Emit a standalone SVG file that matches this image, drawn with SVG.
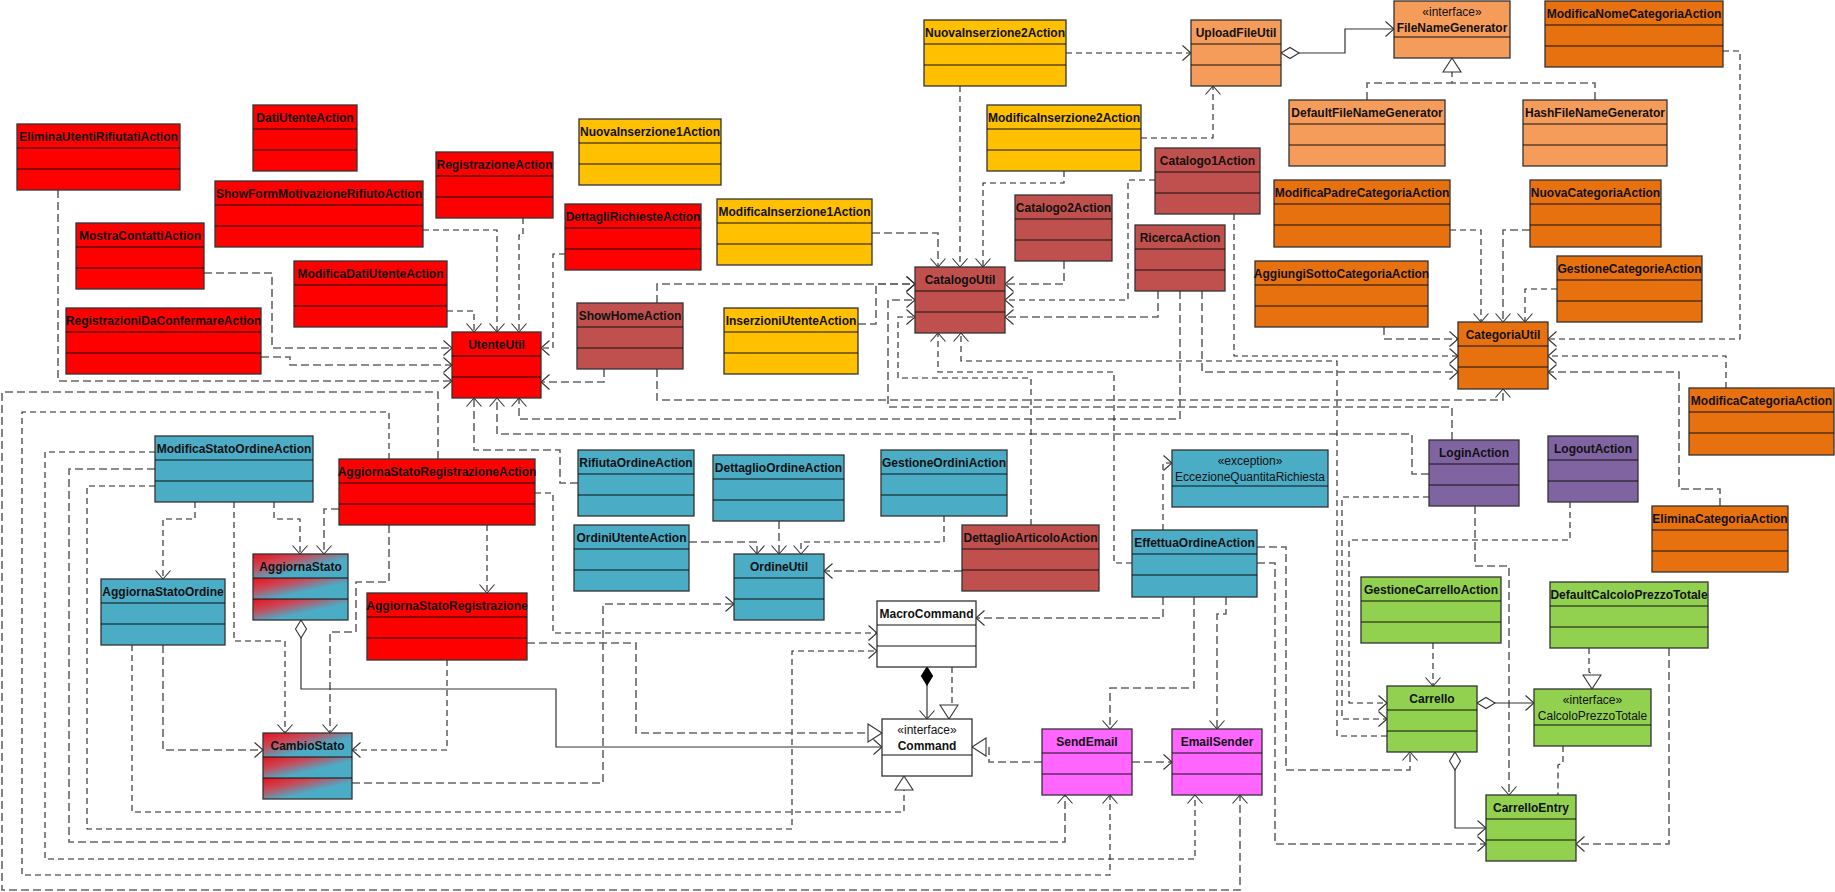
<svg xmlns="http://www.w3.org/2000/svg" width="1835" height="892" viewBox="0 0 1835 892">
<style>
.b{stroke:#333;stroke-width:1.3}
.sep{stroke:#111;stroke-width:1;fill:none}
.t{font-family:"Liberation Sans",Arial,sans-serif;font-size:12px;font-weight:bold;fill:#111;text-anchor:middle}
.st{font-weight:normal}
.red{fill:#FF0000}.yel{fill:#FFC000}.lor{fill:#F69C5A}.dor{fill:#E8710F}.brn{fill:#C0504D}.blu{fill:#4BACC6}.pur{fill:#8064A2}.grn{fill:#92D050}.pnk{fill:#FF66FF}.wht{fill:#FFFFFF}.grd{fill:url(#rb)}
.d{fill:none;stroke:#666;stroke-width:1.6;stroke-dasharray:8,4}
.k{fill:none;stroke:#222;stroke-width:1.1;stroke-dasharray:6,4}
.s{fill:none;stroke:#333;stroke-width:1.2}
.ar{marker-end:url(#ar)}.tr{marker-end:url(#tri)}
</style>
<defs>
<linearGradient id="rb" x1="0" y1="0" x2="1" y2="1"><stop offset="0" stop-color="#E8121C"/><stop offset="0.3" stop-color="#C84A5A"/><stop offset="0.6" stop-color="#4BACC6"/></linearGradient>
<marker id="ar" viewBox="0 0 10 16" markerWidth="10" markerHeight="16" refX="9" refY="8" orient="auto" markerUnits="userSpaceOnUse"><path d="M0.5,0.5 L9,8 L0.5,15.5" fill="none" stroke="#333" stroke-width="1.1"/></marker>
<marker id="tri" viewBox="0 0 16 20" markerWidth="16" markerHeight="20" refX="15" refY="10" orient="auto" markerUnits="userSpaceOnUse"><path d="M1,1 L15,10 L1,19 Z" fill="#fff" stroke="#333" stroke-width="1.1"/></marker>
<marker id="dia" viewBox="0 0 20 14" markerWidth="20" markerHeight="14" refX="1" refY="7" orient="auto" markerUnits="userSpaceOnUse"><path d="M1,7 L10,1.5 L19,7 L10,12.5 Z" fill="#fff" stroke="#333" stroke-width="1.1"/></marker>
<marker id="diaf" viewBox="0 0 20 14" markerWidth="20" markerHeight="14" refX="1" refY="7" orient="auto" markerUnits="userSpaceOnUse"><path d="M1,7 L10,1.5 L19,7 L10,12.5 Z" fill="#000" stroke="#000" stroke-width="1.1"/></marker>
</defs>
<rect width="1835" height="892" fill="#fff"/>

<g id="connectors">
<polyline class="d ar" points="58,190 58,381 452,381"/>
<polyline class="d ar" points="204,273 272,273 272,348 452,348"/>
<polyline class="d ar" points="261,357 290,357 290,365 452,365"/>
<polyline class="k ar" points="447,311 474,311 474,332"/>
<polyline class="k ar" points="423,230 497,230 497,332"/>
<polyline class="k ar" points="523,218 523,235 519,235 519,332"/>
<polyline class="k ar" points="565,254 553,254 553,348 541,348"/>
<polyline class="d ar" points="604,369 604,382 541,382"/>
<polyline class="d ar" points="578,483 560,483 560,450 474,450 474,398"/>
<polyline class="d ar" points="1429,474 1412,474 1412,434 497,434 497,398"/>
<polyline class="d ar" points="1180,291 1180,419 519,419 519,398"/>
<polyline class="d ar" points="872,233 938,233 938,267"/>
<polyline class="k ar" points="960,86 960,267"/>
<polyline class="k ar" points="1064,171 1064,183 983,183 983,267"/>
<polyline class="d ar" points="1064,261 1064,284 1005,284"/>
<polyline class="k ar" points="1155,180 1128,180 1128,300 1005,300"/>
<polyline class="d ar" points="1158,291 1158,317 1005,317"/>
<polyline class="d ar" points="657,303 657,284 915,284"/>
<polyline class="d ar" points="858,324 876,324 876,284 915,284"/>
<polyline class="d ar" points="1452,440 1452,407 888,407 888,300 915,300"/>
<polyline class="k ar" points="1031,525 1031,378 898,378 898,317 915,317"/>
<polyline class="k ar" points="1132,563 1114,563 1114,372 938,372 938,333"/>
<polyline class="k ar" points="1387,736 1337,736 1337,361 961,361 961,333"/>
<polyline class="d ar" points="657,369 657,400 1503,400 1503,389"/>
<polyline class="d ar" points="1384,327 1384,339 1458,339"/>
<polyline class="k ar" points="1234,214 1234,356 1458,356"/>
<polyline class="d ar" points="1202,291 1202,372 1458,372"/>
<polyline class="k ar" points="1450,230 1481,230 1481,322"/>
<polyline class="d ar" points="1530,230 1503,230 1503,322"/>
<polyline class="k ar" points="1557,289 1525,289 1525,322"/>
<polyline class="k ar" points="1723,51 1740,51 1740,339 1548,339"/>
<polyline class="k ar" points="1726,388 1726,356 1548,356"/>
<polyline class="d ar" points="1720,506 1720,489 1679,489 1679,372 1548,372"/>
<polyline class="k ar" points="1066,53 1191,53"/>
<polyline class="k ar" points="1141,138 1213,138 1213,86"/>
<polyline class="s ar" style="marker-start:url(#dia)" points="1281,53 1345,53 1345,29 1394,29"/>
<polyline class="d tr" points="1367,100 1367,83 1452,83 1452,58"/>
<polyline class="d" points="1595,100 1595,83 1452,83"/>
<polyline class="d ar" points="689,542 757,542 757,554"/>
<polyline class="d ar" points="779,521 779,554"/>
<polyline class="k ar" points="944,516 944,542 801,542 801,554"/>
<polyline class="d ar" points="962,571 824,571"/>
<polyline class="d ar" points="352,783 603,783 603,604 734,604"/>
<polyline class="k ar" points="1429,497 1342,497 1342,719 1387,719"/>
<polyline class="k ar" points="1570,502 1570,540 1349,540 1349,703 1387,703"/>
<polyline class="d ar" points="1475,506 1475,566 1509,566 1509,795"/>
<polyline class="k ar" points="1433,643 1433,686"/>
<polyline class="d ar" points="1257,547 1286,547 1286,770 1410,770 1410,752"/>
<polyline class="d ar" points="1257,563 1275,563 1275,844 1486,844"/>
<polyline class="s ar" style="marker-start:url(#dia)" points="1477,703 1534,703"/>
<polyline class="s ar" style="marker-start:url(#dia)" points="1455,752 1455,828 1486,828"/>
<polyline class="k tr" points="1589,648 1589,672 1592,674 1592,689"/>
<polyline class="d ar" points="1669,648 1669,844 1576,844"/>
<polyline class="k ar" points="1563,746 1563,763 1558,765 1558,812"/>
<polyline class="k ar" points="1163,530 1163,463 1172,463"/>
<polyline class="d ar" points="1163,597 1163,618 976,618"/>
<polyline class="d ar" points="1194,597 1194,688 1110,688 1110,729"/>
<polyline class="d ar" points="1226,597 1226,614 1217,614 1217,729"/>
<polyline class="d ar" points="1132,762 1172,762"/>
<polyline class="d tr" points="1042,762 989,762 989,747 972,747"/>
<polyline class="s ar" style="marker-start:url(#diaf)" points="927,667 927,719"/>
<polyline class="k tr" points="952,667 952,703 949,705 949,719"/>
<polyline class="k ar" points="535,493 553,493 553,633 877,633"/>
<polyline class="d ar" points="339,509 324,509 324,554"/>
<polyline class="k ar" points="487,525 487,593"/>
<polyline class="d ar" points="389,525 389,582 356,582 356,632 330,632 330,733"/>
<polyline class="k ar" points="389,459 389,412 22,412 22,875 1110,875 1110,795"/>
<polyline class="d ar" points="438,459 438,392 2,392 2,890 1240,890 1240,795"/>
<polyline class="k ar" points="155,452 45,452 45,859 1195,859 1195,795"/>
<polyline class="d ar" points="155,469 69,469 69,842 1065,842 1065,795"/>
<polyline class="k ar" points="155,486 87,486 87,829 792,829 792,651 877,651"/>
<polyline class="k ar" points="195,502 195,519 163,519 163,579"/>
<polyline class="k ar" points="234,502 234,641 285,641 285,733"/>
<polyline class="k ar" points="274,502 274,519 300,519 300,554"/>
<polyline class="d ar" points="163,645 163,750 263,750"/>
<polyline class="k tr" points="132,645 132,812 904,812 904,776"/>
<polyline class="s ar" style="marker-start:url(#dia)" points="301,620 301,689 556,689 556,747 882,747"/>
<polyline class="k ar" points="447,660 447,750 352,750"/>
<polyline class="d tr" points="527,643 636,643 636,733 882,733"/>
</g>

<g id="EliminaUtentiRifiutatiAction"><rect class="b red" x="17" y="124" width="163" height="66"/><path class="sep" d="M17,148h163M17,169h163"/><text class="t" x="98.5" y="141">EliminaUtentiRifiutatiAction</text></g>
<g id="DatiUtenteAction"><rect class="b red" x="253" y="105" width="104" height="66"/><path class="sep" d="M253,129h104M253,150h104"/><text class="t" x="305" y="122">DatiUtenteAction</text></g>
<g id="ShowFormMotivazioneRifiutoAction"><rect class="b red" x="215" y="181" width="208" height="66"/><path class="sep" d="M215,205h208M215,226h208"/><text class="t" x="319" y="198">ShowFormMotivazioneRifiutoAction</text></g>
<g id="RegistrazioneAction"><rect class="b red" x="436" y="152" width="117" height="66"/><path class="sep" d="M436,176h117M436,197h117"/><text class="t" x="494.5" y="169">RegistrazioneAction</text></g>
<g id="MostraContattiAction"><rect class="b red" x="76" y="223" width="128" height="66"/><path class="sep" d="M76,247h128M76,268h128"/><text class="t" x="140" y="240">MostraContattiAction</text></g>
<g id="ModificaDatiUtenteAction"><rect class="b red" x="294" y="261" width="153" height="66"/><path class="sep" d="M294,285h153M294,306h153"/><text class="t" x="370.5" y="278">ModificaDatiUtenteAction</text></g>
<g id="RegistrazioniDaConfermareAction"><rect class="b red" x="66" y="308" width="195" height="66"/><path class="sep" d="M66,332h195M66,353h195"/><text class="t" x="163.5" y="325">RegistrazioniDaConfermareAction</text></g>
<g id="UtenteUtil"><rect class="b red" x="452" y="332" width="89" height="66"/><path class="sep" d="M452,356h89M452,377h89"/><text class="t" x="496.5" y="349">UtenteUtil</text></g>
<g id="DettagliRichiesteAction"><rect class="b red" x="565" y="204" width="136" height="66"/><path class="sep" d="M565,228h136M565,249h136"/><text class="t" x="633" y="221">DettagliRichiesteAction</text></g>
<g id="AggiornaStatoRegistrazioneAction"><rect class="b red" x="339" y="459" width="196" height="66"/><path class="sep" d="M339,483h196M339,504h196"/><text class="t" x="437" y="476">AggiornaStatoRegistrazioneAction</text></g>
<g id="AggiornaStatoRegistrazione"><rect class="b red" x="367" y="593" width="160" height="67"/><path class="sep" d="M367,617h160M367,638h160"/><text class="t" x="447" y="610">AggiornaStatoRegistrazione</text></g>

<g id="NuovaInserzione1Action"><rect class="b yel" x="579" y="119" width="142" height="66"/><path class="sep" d="M579,143h142M579,164h142"/><text class="t" x="650" y="136">NuovaInserzione1Action</text></g>
<g id="ModificaInserzione1Action"><rect class="b yel" x="717" y="199" width="155" height="66"/><path class="sep" d="M717,223h155M717,244h155"/><text class="t" x="794.5" y="216">ModificaInserzione1Action</text></g>
<g id="NuovaInserzione2Action"><rect class="b yel" x="924" y="20" width="142" height="66"/><path class="sep" d="M924,44h142M924,65h142"/><text class="t" x="995" y="37">NuovaInserzione2Action</text></g>
<g id="ModificaInserzione2Action"><rect class="b yel" x="987" y="105" width="154" height="66"/><path class="sep" d="M987,129h154M987,150h154"/><text class="t" x="1064" y="122">ModificaInserzione2Action</text></g>
<g id="InserzioniUtenteAction"><rect class="b yel" x="724" y="308" width="134" height="66"/><path class="sep" d="M724,332h134M724,353h134"/><text class="t" x="791" y="325">InserzioniUtenteAction</text></g>

<g id="ShowHomeAction"><rect class="b brn" x="577" y="303" width="106" height="66"/><path class="sep" d="M577,327h106M577,348h106"/><text class="t" x="630" y="320">ShowHomeAction</text></g>
<g id="CatalogoUtil"><rect class="b brn" x="915" y="267" width="90" height="66"/><path class="sep" d="M915,291h90M915,312h90"/><text class="t" x="960" y="284">CatalogoUtil</text></g>
<g id="Catalogo2Action"><rect class="b brn" x="1015" y="195" width="97" height="66"/><path class="sep" d="M1015,219h97M1015,240h97"/><text class="t" x="1063.5" y="212">Catalogo2Action</text></g>
<g id="Catalogo1Action"><rect class="b brn" x="1155" y="148" width="105" height="66"/><path class="sep" d="M1155,172h105M1155,193h105"/><text class="t" x="1207.5" y="165">Catalogo1Action</text></g>
<g id="RicercaAction"><rect class="b brn" x="1135" y="225" width="90" height="66"/><path class="sep" d="M1135,249h90M1135,270h90"/><text class="t" x="1180" y="242">RicercaAction</text></g>
<g id="DettaglioArticoloAction"><rect class="b brn" x="962" y="525" width="137" height="66"/><path class="sep" d="M962,549h137M962,570h137"/><text class="t" x="1030.5" y="542">DettaglioArticoloAction</text></g>

<g id="UploadFileUtil"><rect class="b lor" x="1191" y="20" width="90" height="66"/><path class="sep" d="M1191,44h90M1191,65h90"/><text class="t" x="1236" y="37">UploadFileUtil</text></g>
<g id="FileNameGenerator"><rect class="b lor" x="1394" y="1" width="116" height="57"/><path class="sep" d="M1394,37h116"/><text class="t st" x="1452" y="16">«interface»</text><text class="t" x="1452" y="32">FileNameGenerator</text></g>
<g id="DefaultFileNameGenerator"><rect class="b lor" x="1289" y="100" width="156" height="66"/><path class="sep" d="M1289,124h156M1289,145h156"/><text class="t" x="1367" y="117">DefaultFileNameGenerator</text></g>
<g id="HashFileNameGenerator"><rect class="b lor" x="1523" y="100" width="144" height="66"/><path class="sep" d="M1523,124h144M1523,145h144"/><text class="t" x="1595" y="117">HashFileNameGenerator</text></g>

<g id="ModificaNomeCategoriaAction"><rect class="b dor" x="1545" y="1" width="178" height="66"/><path class="sep" d="M1545,25h178M1545,46h178"/><text class="t" x="1634" y="18">ModificaNomeCategoriaAction</text></g>
<g id="ModificaPadreCategoriaAction"><rect class="b dor" x="1274" y="180" width="176" height="67"/><path class="sep" d="M1274,204h176M1274,225h176"/><text class="t" x="1362" y="197">ModificaPadreCategoriaAction</text></g>
<g id="NuovaCategoriaAction"><rect class="b dor" x="1530" y="180" width="131" height="67"/><path class="sep" d="M1530,204h131M1530,225h131"/><text class="t" x="1595.5" y="197">NuovaCategoriaAction</text></g>
<g id="AggiungiSottoCategoriaAction"><rect class="b dor" x="1255" y="261" width="173" height="66"/><path class="sep" d="M1255,285h173M1255,306h173"/><text class="t" x="1341.5" y="278">AggiungiSottoCategoriaAction</text></g>
<g id="GestioneCategorieAction"><rect class="b dor" x="1557" y="256" width="145" height="66"/><path class="sep" d="M1557,280h145M1557,301h145"/><text class="t" x="1629.5" y="273">GestioneCategorieAction</text></g>
<g id="CategoriaUtil"><rect class="b dor" x="1458" y="322" width="90" height="67"/><path class="sep" d="M1458,346h90M1458,367h90"/><text class="t" x="1503" y="339">CategoriaUtil</text></g>
<g id="ModificaCategoriaAction"><rect class="b dor" x="1689" y="388" width="145" height="67"/><path class="sep" d="M1689,412h145M1689,433h145"/><text class="t" x="1761.5" y="405">ModificaCategoriaAction</text></g>
<g id="EliminaCategoriaAction"><rect class="b dor" x="1652" y="506" width="136" height="66"/><path class="sep" d="M1652,530h136M1652,551h136"/><text class="t" x="1720" y="523">EliminaCategoriaAction</text></g>

<g id="LoginAction"><rect class="b pur" x="1429" y="440" width="90" height="66"/><path class="sep" d="M1429,464h90M1429,485h90"/><text class="t" x="1474" y="457">LoginAction</text></g>
<g id="LogoutAction"><rect class="b pur" x="1548" y="436" width="90" height="66"/><path class="sep" d="M1548,460h90M1548,481h90"/><text class="t" x="1593" y="453">LogoutAction</text></g>

<g id="ModificaStatoOrdineAction"><rect class="b blu" x="155" y="436" width="158" height="66"/><path class="sep" d="M155,460h158M155,481h158"/><text class="t" x="234" y="453">ModificaStatoOrdineAction</text></g>
<g id="AggiornaStatoOrdine"><rect class="b blu" x="101" y="579" width="124" height="66"/><path class="sep" d="M101,603h124M101,624h124"/><text class="t" x="163" y="596">AggiornaStatoOrdine</text></g>
<g id="RifiutaOrdineAction"><rect class="b blu" x="578" y="450" width="116" height="66"/><path class="sep" d="M578,474h116M578,495h116"/><text class="t" x="636" y="467">RifiutaOrdineAction</text></g>
<g id="DettaglioOrdineAction"><rect class="b blu" x="713" y="455" width="131" height="66"/><path class="sep" d="M713,479h131M713,500h131"/><text class="t" x="778.5" y="472">DettaglioOrdineAction</text></g>
<g id="GestioneOrdiniAction"><rect class="b blu" x="881" y="450" width="126" height="66"/><path class="sep" d="M881,474h126M881,495h126"/><text class="t" x="944" y="467">GestioneOrdiniAction</text></g>
<g id="OrdiniUtenteAction"><rect class="b blu" x="574" y="525" width="115" height="66"/><path class="sep" d="M574,549h115M574,570h115"/><text class="t" x="631.5" y="542">OrdiniUtenteAction</text></g>
<g id="OrdineUtil"><rect class="b blu" x="734" y="554" width="90" height="66"/><path class="sep" d="M734,578h90M734,599h90"/><text class="t" x="779" y="571">OrdineUtil</text></g>
<g id="EccezioneQuantitaRichiesta"><rect class="b blu" x="1172" y="450" width="156" height="57"/><path class="sep" d="M1172,486h156"/><text class="t st" x="1250" y="465">«exception»</text><text class="t st" x="1250" y="481">EccezioneQuantitaRichiesta</text></g>
<g id="EffettuaOrdineAction"><rect class="b blu" x="1132" y="530" width="125" height="67"/><path class="sep" d="M1132,554h125M1132,575h125"/><text class="t" x="1194.5" y="547">EffettuaOrdineAction</text></g>

<g id="AggiornaStato"><rect class="grd" x="253" y="554" width="95" height="24"/><rect class="grd" x="253" y="578" width="95" height="21"/><rect class="grd" x="253" y="599" width="95" height="21"/><rect class="b" fill="none" x="253" y="554" width="95" height="66"/><path class="sep" d="M253,578h95M253,599h95"/><text class="t" x="300.5" y="571">AggiornaStato</text></g>
<g id="CambioStato"><rect class="grd" x="263" y="733" width="89" height="24"/><rect class="grd" x="263" y="757" width="89" height="21"/><rect class="grd" x="263" y="778" width="89" height="21"/><rect class="b" fill="none" x="263" y="733" width="89" height="66"/><path class="sep" d="M263,757h89M263,778h89"/><text class="t" x="307.5" y="750">CambioStato</text></g>

<g id="MacroCommand"><rect class="b wht" x="877" y="601" width="99" height="66"/><path class="sep" d="M877,625h99M877,646h99"/><text class="t" x="926.5" y="618">MacroCommand</text></g>
<g id="Command"><rect class="b wht" x="882" y="719" width="90" height="57"/><path class="sep" d="M882,755h90"/><text class="t st" x="927" y="734">«interface»</text><text class="t" x="927" y="750">Command</text></g>

<g id="SendEmail"><rect class="b pnk" x="1042" y="729" width="90" height="66"/><path class="sep" d="M1042,753h90M1042,774h90"/><text class="t" x="1087" y="746">SendEmail</text></g>
<g id="EmailSender"><rect class="b pnk" x="1172" y="729" width="90" height="66"/><path class="sep" d="M1172,753h90M1172,774h90"/><text class="t" x="1217" y="746">EmailSender</text></g>

<g id="GestioneCarrelloAction"><rect class="b grn" x="1361" y="577" width="140" height="66"/><path class="sep" d="M1361,601h140M1361,622h140"/><text class="t" x="1431" y="594">GestioneCarrelloAction</text></g>
<g id="DefaultCalcoloPrezzoTotale"><rect class="b grn" x="1550" y="582" width="158" height="66"/><path class="sep" d="M1550,606h158M1550,627h158"/><text class="t" x="1629" y="599">DefaultCalcoloPrezzoTotale</text></g>
<g id="Carrello"><rect class="b grn" x="1387" y="686" width="90" height="66"/><path class="sep" d="M1387,710h90M1387,731h90"/><text class="t" x="1432" y="703">Carrello</text></g>
<g id="CalcoloPrezzoTotale"><rect class="b grn" x="1534" y="689" width="117" height="57"/><path class="sep" d="M1534,725h117"/><text class="t st" x="1592.5" y="704">«interface»</text><text class="t st" x="1592.5" y="720">CalcoloPrezzoTotale</text></g>
<g id="CarrelloEntry"><rect class="b grn" x="1486" y="795" width="90" height="66"/><path class="sep" d="M1486,819h90M1486,840h90"/><text class="t" x="1531" y="812">CarrelloEntry</text></g>
</svg>
